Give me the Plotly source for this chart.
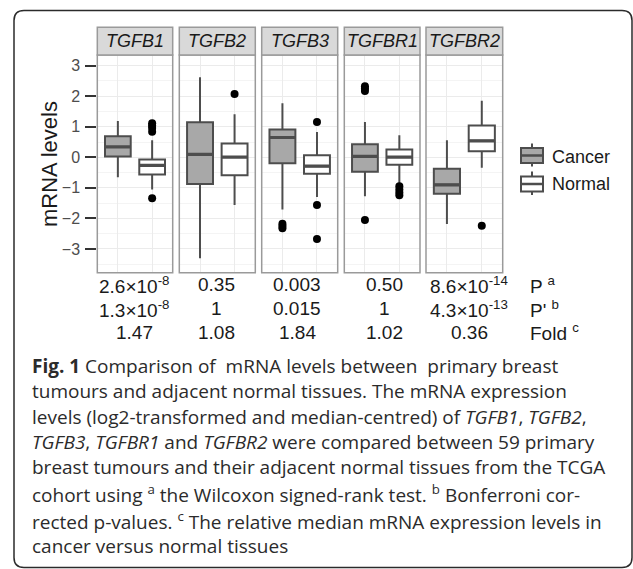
import plotly.graph_objects as go

# ---------------- data ----------------
genes = ["TGFB1", "TGFB2", "TGFB3", "TGFBR1", "TGFBR2"]
groups = ["Cancer", "Normal"]

cancer_lo = [-0.65, -3.30, -1.71, -1.27, -2.18]
cancer_q1 = [0.03, -0.87, -0.19, -0.47, -1.19]
cancer_med = [0.34, 0.10, 0.65, 0.03, -0.90]
cancer_q3 = [0.69, 1.15, 0.91, 0.43, -0.37]
cancer_hi = [1.19, 2.62, 1.77, 1.16, 0.56]
cancer_out = [[], [], [-2.17, -2.25, -2.32], [2.33, 2.25, 2.17, -2.05], []]

normal_lo = [-1.05, -1.56, -1.30, -0.87, -0.34]
normal_q1 = [-0.56, -0.59, -0.54, -0.24, 0.20]
normal_med = [-0.26, 0.01, -0.29, 0.01, 0.54]
normal_q3 = [-0.07, 0.45, 0.07, 0.26, 1.04]
normal_hi = [0.56, 1.41, 0.83, 0.72, 1.85]
normal_out = [[1.12, 1.04, 0.96, 0.84, -1.34], [2.07], [1.16, -1.56, -2.67],
              [-0.95, -1.05, -1.15, -1.24], [-2.24]]

y_ticks = [-3, -2, -1, 0, 1, 2, 3]

p_values = ["2.6×10<sup>-8</sup>", "0.35", "0.003", "0.50", "8.6×10<sup>-14</sup>"]
p_adjusted = ["1.3×10<sup>-8</sup>", "1", "0.015", "1", "4.3×10<sup>-13</sup>"]
fold_change = ["1.47", "1.08", "1.84", "1.02", "0.36"]
row_labels = ["P <sup>a</sup>", "P' <sup>b</sup>", "Fold <sup>c</sup>"]

NB = "\u00a0"
caption_lines = [
    "<b>Fig. 1</b> Comparison of" + NB + " mRNA levels between" + NB + " primary breast",
    "tumours and adjacent normal tissues. The mRNA expression",
    "levels (log2-transformed and median-centred) of <i>TGFB1</i>, <i>TGFB2</i>,",
    "<i>TGFB3</i>, <i>TGFBR1</i> and <i>TGFBR2</i> were compared between 59 primary",
    "breast tumours and their adjacent normal tissues from the TCGA",
    "cohort using <sup>a</sup> the Wilcoxon signed-rank test. <sup>b</sup> Bonferroni cor-",
    "rected p-values. <sup>c</sup> The relative median mRNA expression levels in",
    "cancer versus normal tissues",
]

# ---------------- layout helpers (pixel -> paper) ----------------
W, H = 633, 569
def PX(x):
    return x / W
def PY(y):
    return 1 - y / H

panel_px = [(97.3, 172.7), (179.3, 255.3), (261.7, 337.7), (344.3, 420.0), (426.0, 502.7)]
panel_top, panel_bot = 55.0, 272.7
strip_top = 27.3
y_range = [-3.776, 3.35]
BOX_W = 0.75

BOX_LINE = "#4d4d4d"
CANCER_FILL = "#a8a8a8"
NORMAL_FILL = "#ffffff"
BORDER = "#9a9a9a"
GRID = "#ebebeb"
GRID_MINOR = "#f4f4f4"
CHART_FONT = "Liberation Sans, Arial, sans-serif"

fig = go.Figure()

for i, g in enumerate(genes):
    ax = "" if i == 0 else str(i + 1)
    xa, ya = "x" + ax, "y" + ax
    for gi, (grp, lo, q1, med, q3, hi, out, fill) in enumerate([
        ("Cancer", cancer_lo, cancer_q1, cancer_med, cancer_q3, cancer_hi, cancer_out, CANCER_FILL),
        ("Normal", normal_lo, normal_q1, normal_med, normal_q3, normal_hi, normal_out, NORMAL_FILL),
    ]):
        fig.add_trace(go.Box(
            x=[grp], q1=[q1[i]], median=[med[i]], q3=[q3[i]],
            lowerfence=[lo[i]], upperfence=[hi[i]],
            fillcolor=fill, line=dict(color=BOX_LINE, width=2),
            width=BOX_W, whiskerwidth=0, boxpoints=False,
            xaxis=xa, yaxis=ya, showlegend=False, hoverinfo="skip",
        ))
        # thicker median bar (ggplot style)
        fig.add_shape(type="line", xref=xa, yref=ya,
                      x0=gi - BOX_W / 2, x1=gi + BOX_W / 2, y0=med[i], y1=med[i],
                      line=dict(color=BOX_LINE, width=3.2))
        if out[i]:
            fig.add_trace(go.Scatter(
                x=[grp] * len(out[i]), y=out[i], mode="markers",
                marker=dict(color="black", size=8),
                xaxis=xa, yaxis=ya, showlegend=False, hoverinfo="skip",
            ))

    x0, x1 = panel_px[i]
    key = "xaxis" + ax
    fig.layout[key] = dict(
        domain=[PX(x0), PX(x1)], anchor=ya, type="category",
        categoryorder="array", categoryarray=groups, range=[-0.6, 1.6],
        showticklabels=False, ticks="", showgrid=True, gridcolor=GRID, gridwidth=1,
        zeroline=False, showline=False, fixedrange=True,
    )
    ykey = "yaxis" + ax
    ydict = dict(
        domain=[PY(panel_bot), PY(panel_top)], anchor=xa, range=y_range,
        tickvals=y_ticks, showgrid=True, gridcolor=GRID, gridwidth=1,
        minor=dict(dtick=0.5, tick0=0.5, showgrid=True, gridcolor=GRID_MINOR, gridwidth=1),
        zeroline=False, showline=False, fixedrange=True,
    )
    if i == 0:
        ydict.update(ticks="outside", ticklen=11, tickwidth=1.5, tickcolor="#333333",
                     tickfont=dict(family=CHART_FONT, size=16, color="#4d4d4d"),
                     ticklabelstandoff=2)
    else:
        ydict.update(showticklabels=False, ticks="", matches="y")
    fig.layout[ykey] = ydict

    # panel border
    fig.add_shape(type="rect", xref=xa + " domain", yref=ya + " domain",
                  x0=0, x1=1, y0=0, y1=1, line=dict(color=BORDER, width=1.5),
                  layer="above")
    # strip
    fig.add_shape(type="rect", xref="paper", yref="paper",
                  x0=PX(x0), x1=PX(x1), y0=PY(panel_top), y1=PY(strip_top),
                  fillcolor="#d9d9d9", line=dict(color=BORDER, width=1.5))
    fig.add_annotation(xref="paper", yref="paper", x=PX((x0 + x1) / 2), y=PY(41.5),
                       text="<i>%s</i>" % g, showarrow=False,
                       font=dict(family=CHART_FONT, size=18, color="#1a1a1a"),
                       xanchor="center", yanchor="middle")

# table beneath
col_px = [134.0, 216.0, 297.0, 384.0, 469.0]
row_py = [284.5, 308.5, 332.5]
for r, row in enumerate([p_values, p_adjusted, fold_change]):
    for c, txt in enumerate(row):
        fig.add_annotation(xref="paper", yref="paper", x=PX(col_px[c]), y=PY(row_py[r]),
                           text=txt, showarrow=False, xanchor="center", yanchor="middle",
                           font=dict(family=CHART_FONT, size=19, color="#1a1a1a"))
    fig.add_annotation(xref="paper", yref="paper", x=PX(528), y=PY(row_py[r]),
                       text=row_labels[r], showarrow=False, xanchor="left", yanchor="middle",
                       font=dict(family=CHART_FONT, size=19, color="#1a1a1a"))

# y axis title
fig.add_annotation(xref="paper", yref="paper", x=PX(50), y=PY(164),
                   text="mRNA levels", textangle=-90, showarrow=False,
                   xanchor="center", yanchor="middle",
                   font=dict(family=CHART_FONT, size=22, color="#1a1a1a"))

# legend (drawn as ggplot-like keys)
leg_x0, leg_x1 = 521, 543
for label, fill, wt, bt, md, bb, wb, ty in [
    ("Cancer", CANCER_FILL, 143.5, 148, 155.5, 163, 166.5, 156.5),
    ("Normal", NORMAL_FILL, 171.5, 176.5, 184, 191.5, 195, 183.7),
]:
    xc = (leg_x0 + leg_x1) / 2
    fig.add_shape(type="line", xref="paper", yref="paper", x0=PX(xc), x1=PX(xc),
                  y0=PY(wt), y1=PY(wb), line=dict(color=BOX_LINE, width=2))
    fig.add_shape(type="rect", xref="paper", yref="paper", x0=PX(leg_x0), x1=PX(leg_x1),
                  y0=PY(bb), y1=PY(bt), fillcolor=fill, line=dict(color=BOX_LINE, width=2))
    fig.add_shape(type="line", xref="paper", yref="paper", x0=PX(leg_x0), x1=PX(leg_x1),
                  y0=PY(md), y1=PY(md), line=dict(color=BOX_LINE, width=2.5))
    fig.add_annotation(xref="paper", yref="paper", x=PX(550), y=PY(ty), text=label,
                       showarrow=False, xanchor="left", yanchor="middle",
                       font=dict(family=CHART_FONT, size=18, color="#1a1a1a"))

# caption, one annotation per line
cap_font = dict(family="Open Sans, Noto Sans, sans-serif", size=19, color="#2b2b2b")
cap_centers = [365.5, 391.1, 416.7, 442.3, 467.2, 494.2, 520.6, 546.0]
for k, line in enumerate(caption_lines):
    fig.add_annotation(xref="paper", yref="paper", x=PX(30), y=PY(cap_centers[k]),
                       text=line, showarrow=False, xanchor="left", yanchor="middle",
                       font=cap_font)

# rounded frame
fx0, fy0, fx1, fy1, rad = 14, 10.5, 632, 567.5, 10
path = ("M {a},{b} L {a},{c} Q {a},{d} {e},{d} L {f},{d} Q {g},{d} {g},{c} "
        "L {g},{b} Q {g},{h} {f},{h} L {e},{h} Q {a},{h} {a},{b} Z").format(
    a=PX(fx0), b=PY(fy1 - rad), c=PY(fy0 + rad), d=PY(fy0), e=PX(fx0 + rad),
    f=PX(fx1 - rad), g=PX(fx1), h=PY(fy1))
fig.add_shape(type="path", xref="paper", yref="paper", path=path,
              line=dict(color="#2b2b2b", width=1.5))

fig.update_layout(
    width=W, height=H, margin=dict(l=0, r=0, t=0, b=0),
    paper_bgcolor="white", plot_bgcolor="white", boxmode="overlay",
    showlegend=False,
)

fig.write_html("out.html", config={"displayModeBar": False})
